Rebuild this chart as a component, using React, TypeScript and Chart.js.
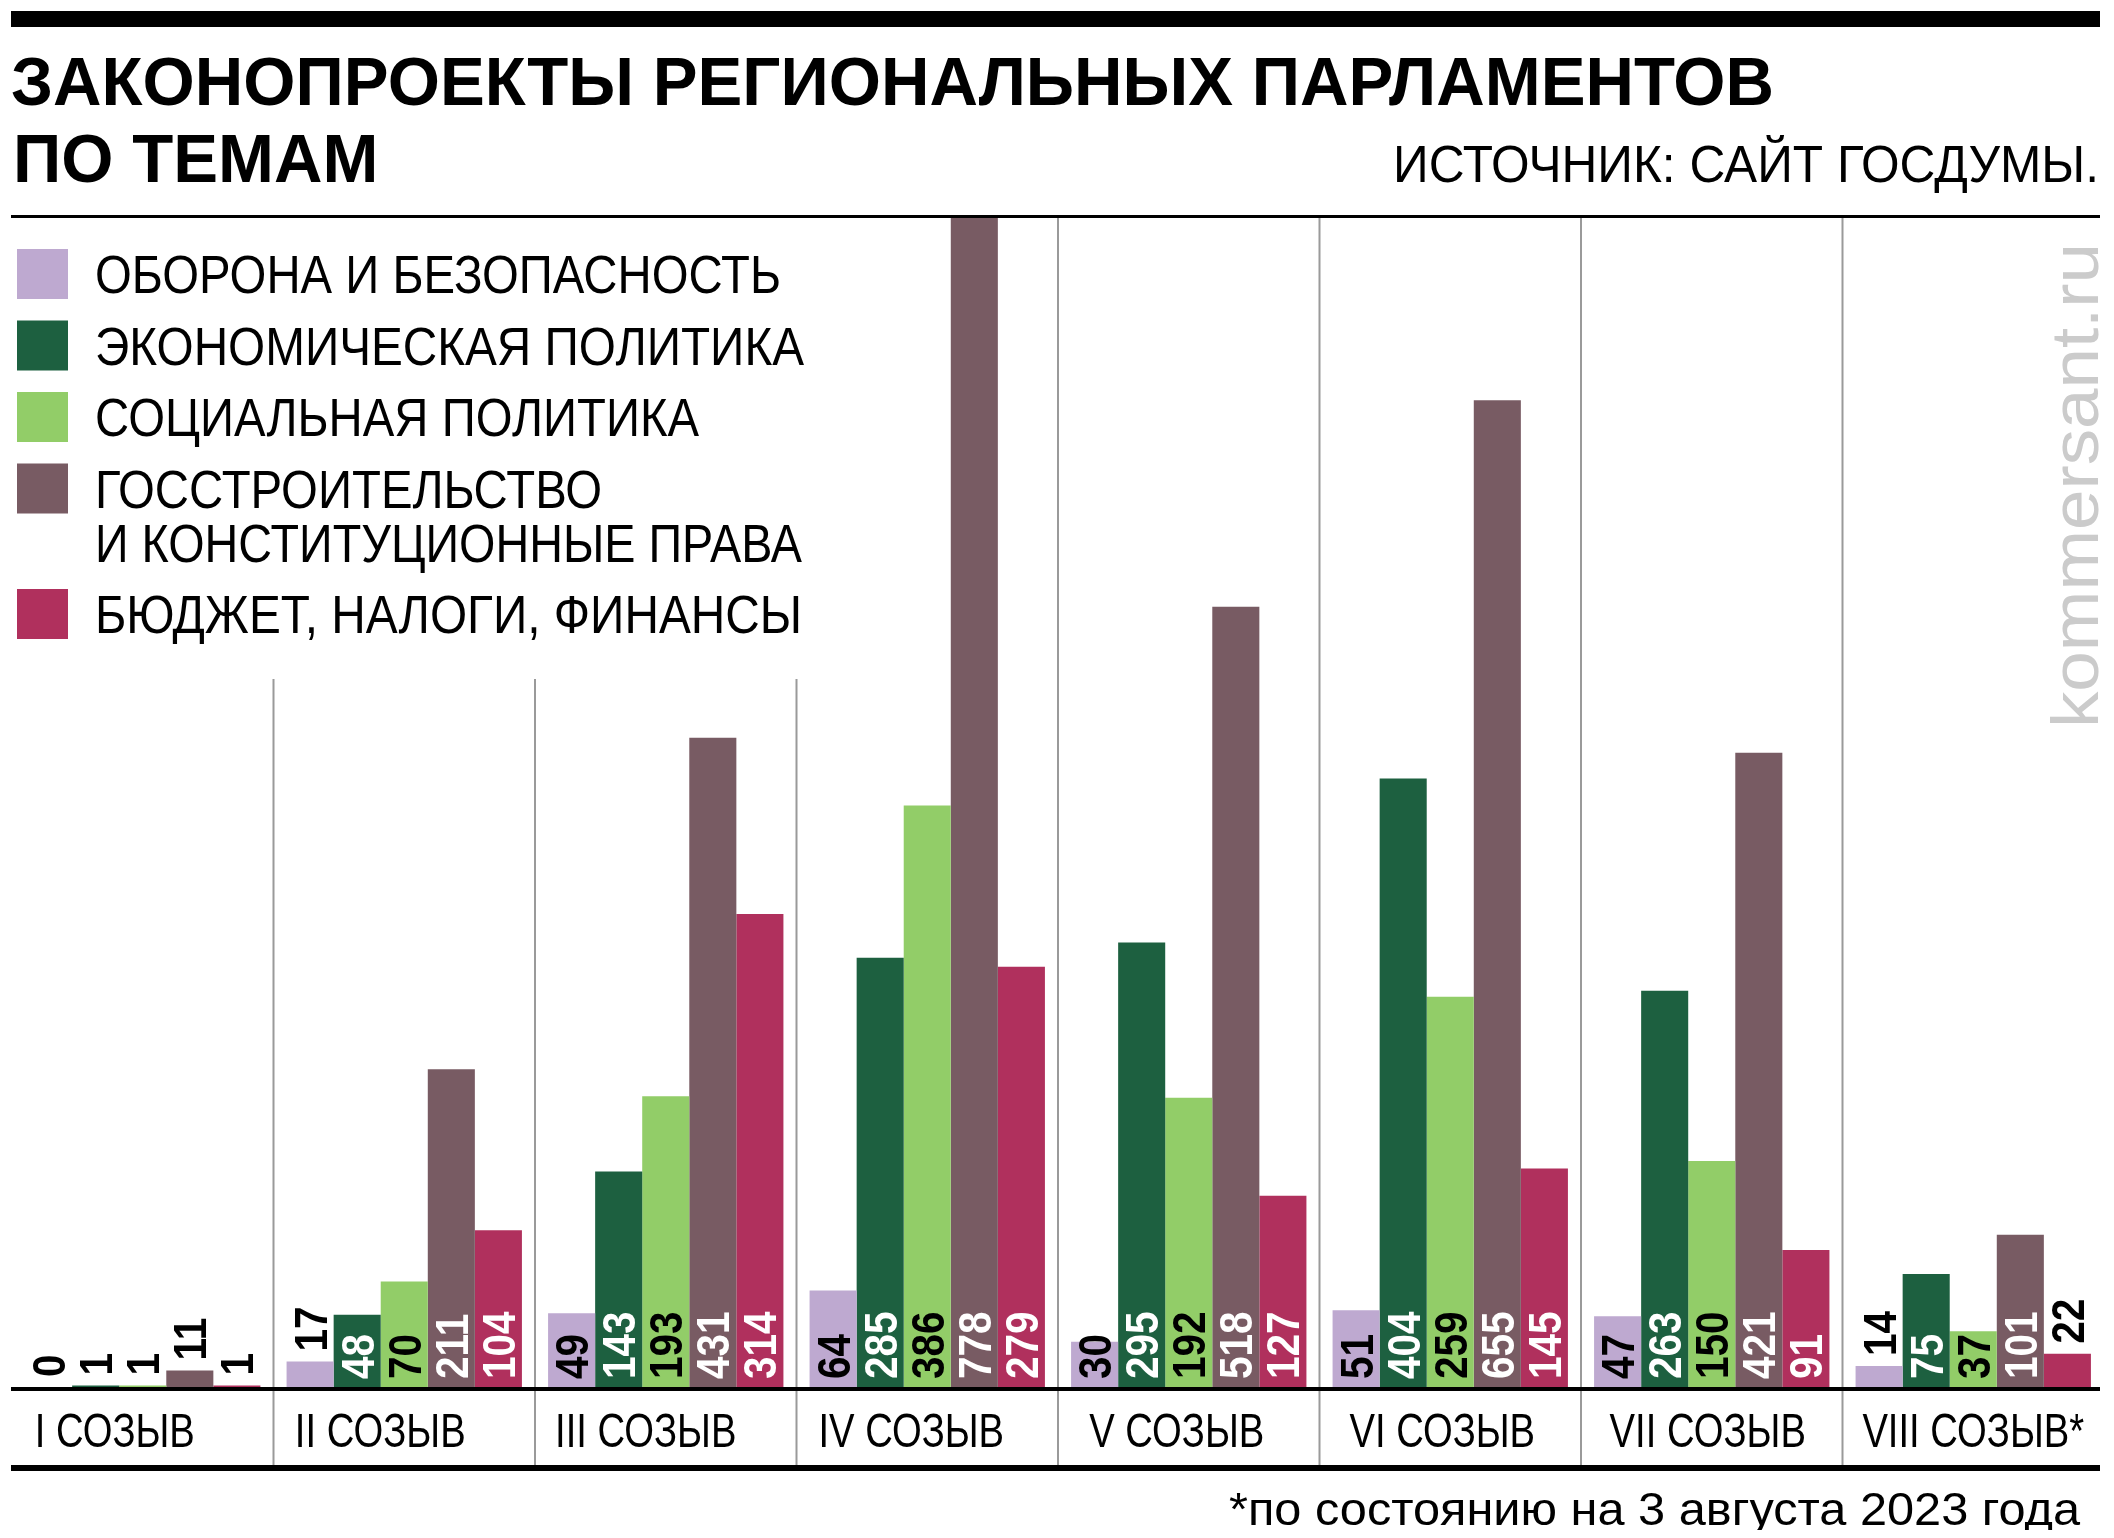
import React, { useEffect, useRef } from "react";
import { Chart, registerables } from "chart.js";

Chart.register(...registerables);

// ---------- data ----------
const categories = [
  "I СОЗЫВ",
  "II СОЗЫВ",
  "III СОЗЫВ",
  "IV СОЗЫВ",
  "V СОЗЫВ",
  "VI СОЗЫВ",
  "VII СОЗЫВ",
  "VIII СОЗЫВ*",
];
const seriesNames = [
  "ОБОРОНА И БЕЗОПАСНОСТЬ",
  "ЭКОНОМИЧЕСКАЯ ПОЛИТИКА",
  "СОЦИАЛЬНАЯ ПОЛИТИКА",
  "ГОССТРОИТЕЛЬСТВО\nИ КОНСТИТУЦИОННЫЕ ПРАВА",
  "БЮДЖЕТ, НАЛОГИ, ФИНАНСЫ",
];
const defense = [0, 17, 49, 64, 30, 51, 47, 14];
const economy = [1, 48, 143, 285, 295, 404, 263, 75];
const social = [1, 70, 193, 386, 192, 259, 150, 37];
const stateBuilding = [11, 211, 431, 778, 518, 655, 421, 101];
const budget = [1, 104, 314, 279, 127, 145, 91, 22];

const titleLine1 = "ЗАКОНОПРОЕКТЫ РЕГИОНАЛЬНЫХ ПАРЛАМЕНТОВ";
const titleLine2 = "ПО ТЕМАМ";
const sourceText = "ИСТОЧНИК: САЙТ ГОСДУМЫ.";
const footnoteText = "*по состоянию на 3 августа 2023 года";
const watermarkText = "kommersant.ru";

const colors = ["#BEA9D0", "#1D6040", "#92CD68", "#785B63", "#B0305D"];
const lightSeries = [true, false, true, false, false];

const W = 2098;
const H = 1522;
const FONT = '"Liberation Sans", Arial, sans-serif';

function fitText(
  ctx: CanvasRenderingContext2D,
  text: string,
  x: number,
  y: number,
  font: string,
  width: number,
  align: "left" | "right"
) {
  ctx.save();
  ctx.font = font;
  ctx.textAlign = "left";
  ctx.textBaseline = "alphabetic";
  const w = ctx.measureText(text).width;
  const s = width / w;
  ctx.translate(align === "left" ? x : x - width, y);
  ctx.scale(s, 1);
  ctx.fillText(text, 0, 0);
  ctx.restore();
  return s;
}

const decorPlugin = {
  id: "decor",
  afterDraw(chart: any) {
    const ctx: CanvasRenderingContext2D = chart.ctx;
    const xs = chart.scales.x;
    const area = chart.chartArea;
    const left = 3;
    const right = 2092;

    ctx.save();
    ctx.fillStyle = "#000";
    // top thick bar
    ctx.fillRect(left, 3, right - left, 16);
    // title
    const s1 = fitText(ctx, titleLine1, 3, 97, `bold 68px ${FONT}`, 1763, "left");
    ctx.save();
    ctx.font = `bold 68px ${FONT}`;
    ctx.translate(5, 174);
    ctx.scale(s1, 1);
    ctx.fillText(titleLine2, 0, 0);
    ctx.restore();
    // source
    fitText(ctx, sourceText, 2091, 174, `300 52px ${FONT}`, 706, "right");
    // rule under title
    ctx.fillRect(left, 207, right - left, 3);

    // legend
    const rowCenters = [266, 337.5, 409, 480.5, 606];
    const textWidths = [686, 709, 604, 507, 707];
    const legendFont = `53px ${FONT}`;
    seriesNames.forEach((name, i) => {
      const cy = rowCenters[i];
      ctx.fillStyle = colors[i];
      ctx.fillRect(9, cy - 25, 51, 50);
      ctx.fillStyle = "#000";
      const lines = name.split("\n");
      fitText(ctx, lines[0], 87, cy + 19, legendFont, textWidths[i], "left");
      if (lines[1]) {
        fitText(ctx, lines[1], 87, cy + 19 + 54, legendFont, 707, "left");
      }
    });

    // separators
    ctx.strokeStyle = "#9a9a9a";
    ctx.lineWidth = 2;
    for (let i = 0; i < categories.length - 1; i++) {
      const x = (xs.getPixelForValue(i) + xs.getPixelForValue(i + 1)) / 2;
      const top = i < 3 ? 671 : 210;
      ctx.beginPath();
      ctx.moveTo(x, top);
      ctx.lineTo(x, 1457);
      ctx.stroke();
    }

    // baseline
    ctx.fillStyle = "#000";
    ctx.fillRect(left, area.bottom, right - left, 4);
    // bottom thick line
    ctx.fillRect(left, 1457, right - left, 6);

    // category labels
    ctx.font = `49px ${FONT}`;
    ctx.textBaseline = "alphabetic";
    ctx.textAlign = "left";
    categories.forEach((c, i) => {
      const cx = xs.getPixelForValue(i) - 28 + i * 4;
      const w = ctx.measureText(c).width * 0.78;
      ctx.save();
      ctx.translate(cx - w / 2, 1439);
      ctx.scale(0.78, 1);
      ctx.fillText(c, 0, 0);
      ctx.restore();
    });

    // footnote
    fitText(ctx, footnoteText, 2072, 1517, `46px ${FONT}`, 851, "right");

    // watermark
    ctx.save();
    ctx.fillStyle = "#cbcbcb";
    ctx.font = `66px ${FONT}`;
    const ww = ctx.measureText(watermarkText).width;
    ctx.translate(2090, 720);
    ctx.rotate(-Math.PI / 2);
    ctx.scale(485 / ww, 1);
    ctx.textBaseline = "alphabetic";
    ctx.fillText(watermarkText, 0, 0);
    ctx.restore();

    // value labels
    const cap = 33;
    chart.data.datasets.forEach((ds: any, di: number) => {
      const meta = chart.getDatasetMeta(di);
      meta.data.forEach((bar: any, i: number) => {
        const v = ds.data[i] as number;
        const above = v < 25;
        const startY = above ? bar.y - 10 : bar.base - 8;
        ctx.save();
        ctx.fillStyle = above || lightSeries[di] ? "#000" : "#fff";
        ctx.font = `bold 46px ${FONT}`;
        ctx.textAlign = "left";
        ctx.textBaseline = "alphabetic";
        ctx.translate(bar.x, startY);
        ctx.rotate(-Math.PI / 2);
        ctx.scale(0.88, 1);
        ctx.fillText(String(v), 0, cap / 2);
        ctx.restore();
      });
    });
    ctx.restore();
  },
};

export default function App() {
  const ref = useRef<HTMLCanvasElement>(null);
  useEffect(() => {
    const seriesValues = [defense, economy, social, stateBuilding, budget];
    const chart = new Chart(ref.current as HTMLCanvasElement, {
      type: "bar",
      data: {
        labels: categories,
        datasets: seriesValues.map((vals, i) => ({
          label: seriesNames[i],
          data: vals,
          backgroundColor: colors[i],
          borderWidth: 0,
          categoryPercentage: 0.9,
          barPercentage: 1.0,
        })),
      },
      options: {
        animation: false,
        responsive: false,
        devicePixelRatio: 1,
        layout: { padding: { left: 4, right: 2, top: 207, bottom: 143 } },
        plugins: {
          legend: { display: false },
          tooltip: { enabled: false },
          title: { display: false },
        },
        scales: {
          x: { display: false, grid: { display: false } },
          y: { display: false, min: 0, max: 778, grid: { display: false } },
        },
      },
      plugins: [decorPlugin],
    });
    return () => chart.destroy();
  }, []);
  return (
    <canvas
      ref={ref}
      width={W}
      height={H}
      style={{ display: "block", width: W + "px", height: H + "px" }}
    />
  );
}
